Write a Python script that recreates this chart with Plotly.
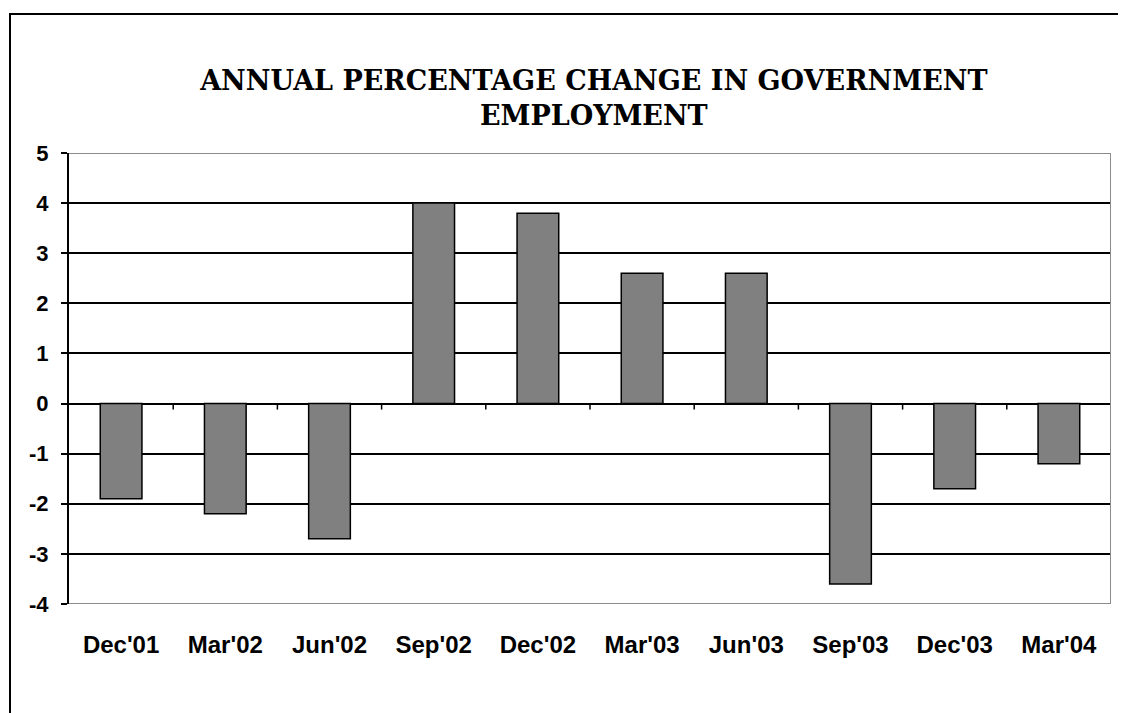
import plotly.graph_objects as go

categories = ["Dec'01", "Mar'02", "Jun'02", "Sep'02", "Dec'02", "Mar'03", "Jun'03", "Sep'03", "Dec'03", "Mar'04"]
values = [-1.9, -2.2, -2.7, 4.0, 3.8, 2.6, 2.6, -3.6, -1.7, -1.2]
y_ticks = [5, 4, 3, 2, 1, 0, -1, -2, -3, -4]
title_text = "ANNUAL PERCENTAGE CHANGE IN GOVERNMENT<br>EMPLOYMENT"

x_pos = list(range(len(categories)))
y_min, y_max = min(y_ticks), max(y_ticks)

W, H = 1118, 705
ML, MR, MT, MB = 61, 15, 145, 109
PW, PH = W - ML - MR, H - MT - MB

fig = go.Figure()
fig.add_trace(go.Bar(
    x=x_pos, y=values, width=0.4,
    marker=dict(color="#808080", line=dict(color="black", width=1.5)),
    showlegend=False, hoverinfo="x+y",
))

shapes = []
# category boundary tick marks on the zero line
for i in range(1, len(categories) + 1):
    shapes.append(dict(type="line", xref="x", yref="y", x0=i - 0.5, x1=i - 0.5,
                       y0=0, y1=-0.12, line=dict(color="black", width=1.5), layer="above"))
# plot area border (top, right, bottom) in gray
for (x0, y0, x1, y1) in [(-0.5, y_max, len(categories) - 0.5, y_max),
                         (len(categories) - 0.5, y_max, len(categories) - 0.5, y_min),
                         (-0.5, y_min, len(categories) - 0.5, y_min)]:
    shapes.append(dict(type="line", xref="x", yref="y", x0=x0, y0=y0, x1=x1, y1=y1,
                       line=dict(color="#8c8c8c", width=2), layer="above"))
# outer chart frame (extends beyond right/bottom edges)
shapes.append(dict(type="rect", xref="paper", yref="paper",
                   x0=(2 - ML) / PW, x1=1.3, y0=-0.6, y1=1 + (MT - 6) / PH,
                   line=dict(color="black", width=2), fillcolor="rgba(0,0,0,0)", layer="below"))

fig.update_layout(
    width=W, height=H,
    margin=dict(l=ML, r=MR, t=MT, b=MB),
    paper_bgcolor="white", plot_bgcolor="white",
    title=dict(text=title_text, x=0.524, xanchor="center", y=0.884, yanchor="middle",
               font=dict(family="DejaVu Serif", size=27, color="black", weight="bold")),
    xaxis=dict(range=[-0.5, len(categories) - 0.5], tickmode="array", tickvals=x_pos,
               ticktext=[f"<b>{c}</b>" for c in categories], showgrid=False, showline=False,
               zeroline=False, ticks="", ticklen=0, ticklabelstandoff=24,
               tickfont=dict(family="Liberation Sans", size=24, color="black")),
    yaxis=dict(range=[y_min, y_max], tickmode="array", tickvals=y_ticks,
               ticktext=[f"<b>{t}</b>" for t in y_ticks], showgrid=True, gridcolor="black",
               gridwidth=1.5, zeroline=True, zerolinecolor="black", zerolinewidth=1.5,
               showline=True, linecolor="black", linewidth=2, ticks="outside", ticklen=6,
               tickcolor="black", tickwidth=1.5, ticklabelstandoff=8,
               tickfont=dict(family="Liberation Sans", size=22, color="black")),
    bargap=0.6,
    shapes=shapes,
)
fig.update_xaxes(automargin=False)
fig.update_yaxes(automargin=False)

fig.write_html("out.html")
